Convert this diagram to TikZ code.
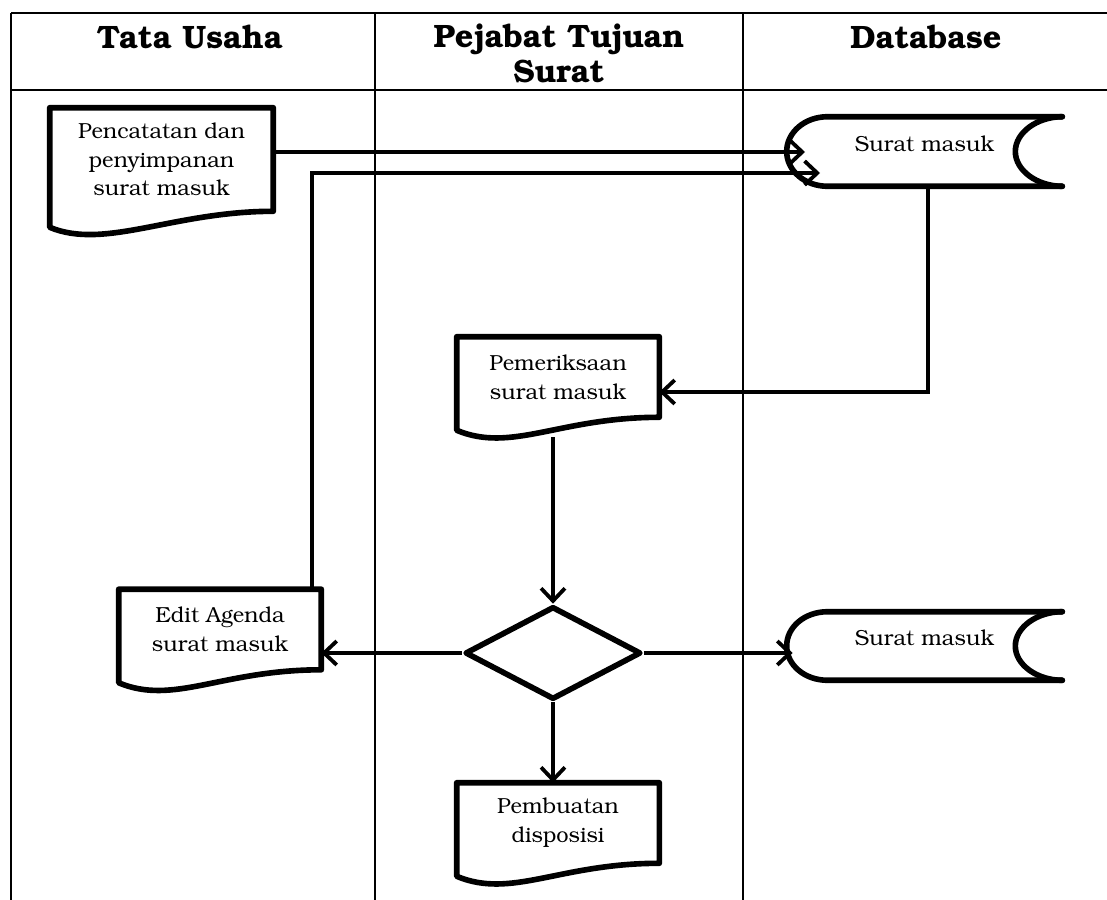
\documentclass[tikz,border=0pt]{standalone}
\usepackage[T1]{fontenc}
\usepackage{bookman}
\usetikzlibrary{arrows.meta,calc,shapes.geometric}

\newcommand{\bodyfont}{\fontsize{15.5}{20.5}\selectfont}
\newcommand{\headfont}{\fontsize{23}{25}\selectfont\bfseries}

\tikzset{
  shapeline/.style={line width=4pt, line join=round, line cap=round},
  conn/.style={line width=2.7pt, -{Straight Barb[length=9pt,width=17pt]}},
  tableline/.style={line width=1.4pt},
  headtext/.style={align=center, font=\headfont},
  docbox/.style={minimum width=5.05cm, minimum height=2cm, inner sep=0pt, align=center, font=\bodyfont},
  storebox/.style={minimum width=6.875cm, minimum height=1.725cm, inner sep=0pt, text depth=11pt, font=\bodyfont},
  decision/.style={diamond, draw, shapeline, minimum width=4.4cm, minimum height=2.325cm, inner sep=0pt},
}

% Document outline with wavy bottom
\newcommand{\docoutline}[2]{%
  \draw[shapeline] (#1.south east) -- (#1.north east) -- (#1.north west) -- ($(#1.south west)+(0,#2)$)
    .. controls +(55,23) and +(-100,0) .. (#1.south east) -- cycle;}

% Stored data outline
\newcommand{\storeoutline}[1]{%
  \draw[shapeline] (#1.north east) -- ($(#1.north west)+(41,0)$)
    .. controls +(-23,0) and +(0,-19) .. (#1.west)
    .. controls +(0,19) and +(-23,0) .. ($(#1.south west)+(41,0)$) -- (#1.south east);
  \draw[shapeline] (#1.north east) .. controls +(-25,0) and +(0,-19) .. ($(#1.east)+(-47,0)$)
    .. controls +(0,19) and +(-25,0) .. (#1.south east);}

\begin{document}
\begin{tikzpicture}[x=0.025cm,y=-0.025cm]
\useasboundingbox (0,0) rectangle (1107,900);

% Table frame
\draw[tableline] (11,13) -- (1107,13);
\draw[tableline] (11,90) -- (1107,90);
\foreach \colx in {11,375,743}
  \draw[tableline] (\colx,13) -- (\colx,900);

% Headers
\node[headtext] (headtu) at (190,37) {Tata Usaha};
\node[headtext] (headpj) at (559,54) {Pejabat Tujuan\\Surat};
\node[headtext] (headdb) at (926,37) {Database};

% Documents
\node[docbox, minimum width=5.575cm, minimum height=2.575cm] (pencatat) at (161.5,159.5) {Pencatatan dan\\penyimpanan\\surat masuk};
\node[docbox] (periksa) at (558,377) {Pemeriksaan\\surat masuk};
\node[docbox] (edit) at (220,629.5) {Edit Agenda\\surat masuk};
\node[docbox] (buat) at (558,823) {Pembuatan\\disposisi};
\docoutline{pencatat}{16}
\docoutline{periksa}{13}
\docoutline{edit}{13}
\docoutline{buat}{13}

% Stored data
\node[storebox] (store1) at (924.5,151.5) {Surat masuk};
\node[storebox, minimum height=1.7cm] (store2) at (924.5,646) {Surat masuk};
\storeoutline{store1}
\storeoutline{store2}

% Decision
\node[decision] (diamond) at (553,653) {};

% Connectors
\coordinate (in1) at (805,152);
\draw[conn] (pencatat.east |- in1) -- (in1);

\coordinate (bend2) at (312,173);
\coordinate (in2) at (820,173);
\draw[conn] (edit.north -| bend2) -- (bend2) -- (in2);

\coordinate (bend1) at (928,392);
\draw[conn] (store1.south -| bend1) -- (bend1) -- (bend1 -| periksa.east);

\draw[conn] ($(periksa.south)+(-5,20)$) -- (diamond.north);
\draw[conn] (diamond.west) -- (diamond.west -| edit.east);
\draw[conn] (diamond.east) -- ($(diamond.east -| store2.west)+(6,0)$);
\draw[conn] (diamond.south) -- (diamond.south |- buat.north);
\end{tikzpicture}
\end{document}
